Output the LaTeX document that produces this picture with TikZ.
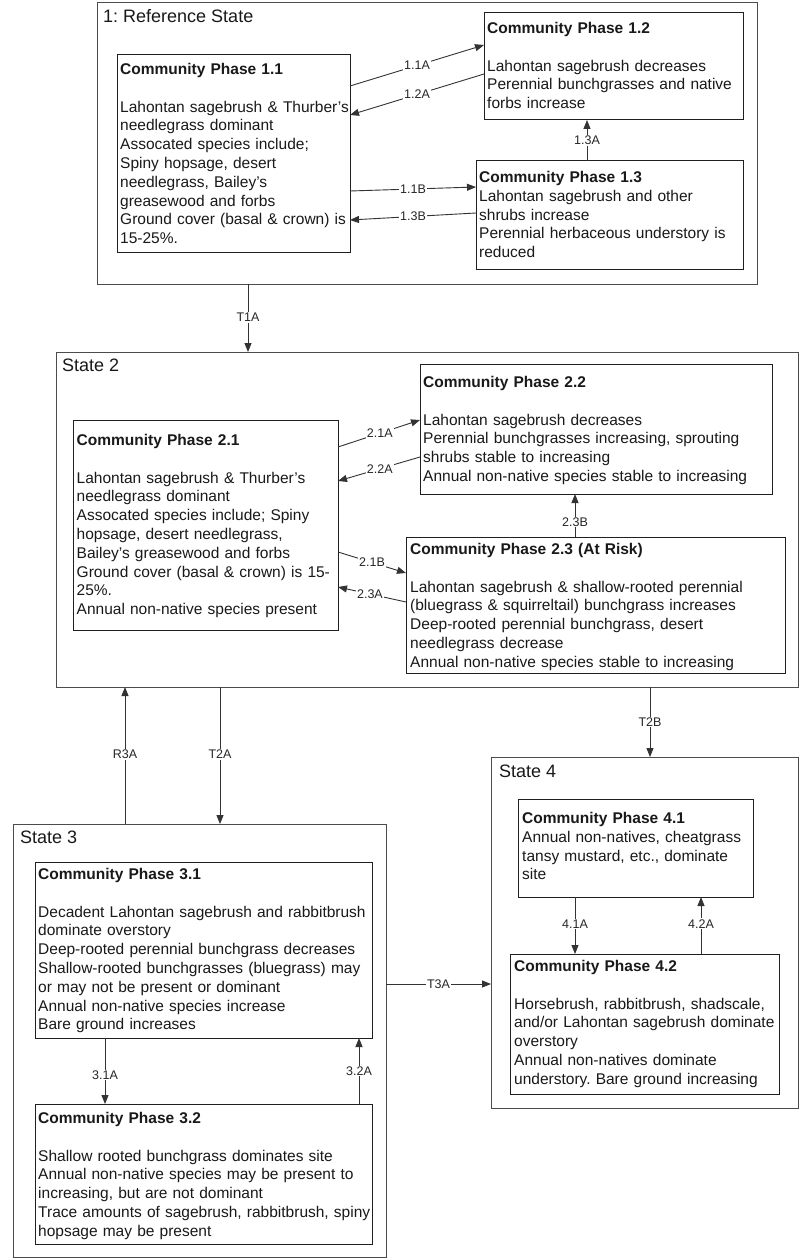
\documentclass[tikz,border=0pt]{standalone}
\usepackage{fontspec}
\setmainfont{Liberation Sans}
\usetikzlibrary{arrows.meta}
\frenchspacing
\tikzset{
  sbox/.style={draw=black!70, line width=1pt, inner sep=0pt, outer sep=0pt, anchor=north west},
  cbox/.style={draw=black!88, line width=1pt, inner sep=0pt, outer sep=0pt, anchor=north west},
  txt/.style={anchor=base west, inner sep=0pt, text width=400pt, align=left, font=\fontsize{15.5}{18.8}\selectfont\frenchspacing, text=black!90},
  stitle/.style={anchor=base west, inner sep=0pt, font=\fontsize{18}{21}\selectfont, text=black!90},
  arr/.style={draw=black!80, line width=0.9pt, -{Triangle[length=9pt,width=7pt]}},
  lbl/.style={fill=white, inner sep=1pt, font=\fontsize{12.5}{14}\selectfont, text=black!85}
}
\begin{document}
\begin{tikzpicture}[x=1pt,y=-1pt]
\path[use as bounding box, fill=white] (0,0) rectangle (800,1260);

% ---------- State 1 ----------
\node[sbox, minimum width=660pt, minimum height=281pt] (s1) at (97,3) {};
\node[stitle] (s1t) at (103,22.5) {1: Reference State};
\node[cbox, minimum width=233pt, minimum height=197pt] (p11) at (117,55) {};
\node[cbox, minimum width=259pt, minimum height=107pt] (p12) at (484,13) {};
\node[cbox, minimum width=267pt, minimum height=108pt] (p13) at (476,161) {};
\node[txt] (p11t) at (120,74.5) {\textbf{Community Phase 1.1}\\[18.8pt]
Lahontan sagebrush \& Thurber’s\\
needlegrass dominant\\
Assocated species include;\\
Spiny hopsage, desert\\
needlegrass, Bailey’s\\
greasewood and forbs\\
Ground cover (basal \& crown) is\\
15-25\%.};
\node[txt] (p12t) at (487,33.5) {\textbf{Community Phase 1.2}\\[18.8pt]
Lahontan sagebrush decreases\\
Perennial bunchgrasses and native\\
forbs increase};
\node[txt] (p13t) at (479,182.5) {\textbf{Community Phase 1.3}\\
Lahontan sagebrush and other\\
shrubs increase\\
Perennial herbaceous understory is\\
reduced};

\draw[arr] ([yshift=-31pt]p11.north east) -- node[lbl, pos=0.5] (l11a) {1.1A} ([yshift=-32pt]p12.north west);
\draw[arr] ([yshift=-61pt]p12.north west) -- node[lbl, pos=0.5] (l12a) {1.2A} ([yshift=-60pt]p11.north east);
\draw[arr] ([yshift=-136pt]p11.north east) -- node[lbl, pos=0.5] (l11b) {1.1B} ([yshift=-26pt]p13.north west);
\draw[arr] ([yshift=-52pt]p13.north west) -- node[lbl, pos=0.5] (l13b) {1.3B} ([yshift=-165pt]p11.north east);
\draw[arr] ([xshift=111pt]p13.north west) -- node[lbl, pos=0.5] (l13a) {1.3A} ([xshift=103pt]p12.south west);

% ---------- State 2 ----------
\node[sbox, minimum width=742pt, minimum height=335pt] (s2) at (56,352) {};
\node[stitle] (s2t) at (62,371) {State 2};
\node[cbox, minimum width=265pt, minimum height=210pt] (p21) at (73,420) {};
\node[cbox, minimum width=352pt, minimum height=130pt] (p22) at (420,364) {};
\node[cbox, minimum width=379pt, minimum height=136pt] (p23) at (406,537) {};
\node[txt] (p21t) at (76.5,445.5) {\textbf{Community Phase 2.1}\\[18.8pt]
Lahontan sagebrush \& Thurber’s\\
needlegrass dominant\\
Assocated species include; Spiny\\
hopsage, desert needlegrass,\\
Bailey’s greasewood and forbs\\
Ground cover (basal \& crown) is 15-\\
25\%.\\
Annual non-native species present};
\node[txt] (p22t) at (423,387.5) {\textbf{Community Phase 2.2}\\[18.8pt]
Lahontan sagebrush decreases\\
Perennial bunchgrasses increasing, sprouting\\
shrubs stable to increasing\\
Annual non-native species stable to increasing};
\node[txt] (p23t) at (410,554.5) {\textbf{Community Phase 2.3 (At Risk)}\\[18.8pt]
Lahontan sagebrush \& shallow-rooted perennial\\
(bluegrass \& squirreltail) bunchgrass increases\\
Deep-rooted perennial bunchgrass, desert\\
needlegrass decrease\\
Annual non-native species stable to increasing};

\draw[arr] ([yshift=-27pt]p21.north east) -- node[lbl, pos=0.51] (l21a) {2.1A} ([yshift=-56pt]p22.north west);
\draw[arr] ([yshift=-93pt]p22.north west) -- node[lbl, pos=0.49] (l22a) {2.2A} ([yshift=-61pt]p21.north east);
\draw[arr] ([yshift=-132pt]p21.north east) -- node[lbl, pos=0.5] (l21b) {2.1B} ([yshift=-36pt]p23.north west);
\draw[arr] ([yshift=-65pt]p23.north west) -- node[lbl, pos=0.53] (l23a) {2.3A} ([yshift=-167pt]p21.north east);
\draw[arr] ([xshift=169pt]p23.north west) -- node[lbl, pos=0.35] (l23b) {2.3B} ([xshift=155pt]p22.south west);

% ---------- State 3 ----------
\node[sbox, minimum width=373pt, minimum height=433pt] (s3) at (13,824) {};
\node[stitle] (s3t) at (20,843) {State 3};
\node[cbox, minimum width=337pt, minimum height=176pt] (p31) at (35,862) {};
\node[cbox, minimum width=337pt, minimum height=140pt] (p32) at (35,1104) {};
\node[txt] (p31t) at (38,879.5) {\textbf{Community Phase 3.1}\\[18.8pt]
Decadent Lahontan sagebrush and rabbitbrush\\
dominate overstory\\
Deep-rooted perennial bunchgrass decreases\\
Shallow-rooted bunchgrasses (bluegrass) may\\
or may not be present or dominant\\
Annual non-native species increase\\
Bare ground increases};
\node[txt] (p32t) at (38,1123.5) {\textbf{Community Phase 3.2}\\[18.8pt]
Shallow rooted bunchgrass dominates site\\
Annual non-native species may be present to\\
increasing, but are not dominant\\
Trace amounts of sagebrush, rabbitbrush, spiny\\
hopsage may be present};

\draw[arr] ([xshift=70pt]p31.south west) -- node[lbl, pos=0.56] (l31a) {3.1A} ([xshift=70pt]p32.north west);
\draw[arr] ([xshift=324pt]p32.north west) -- node[lbl, pos=0.5] (l32a) {3.2A} ([xshift=324pt]p31.south west);

% ---------- State 4 ----------
\node[sbox, minimum width=307pt, minimum height=351pt] (s4) at (491,757) {};
\node[stitle] (s4t) at (499,777) {State 4};
\node[cbox, minimum width=235pt, minimum height=98pt] (p41) at (518,799) {};
\node[cbox, minimum width=269pt, minimum height=140pt] (p42) at (510,954) {};
\node[txt] (p41t) at (522,823.5) {\textbf{Community Phase 4.1}\\
Annual non-natives, cheatgrass\\
tansy mustard, etc., dominate\\
site};
\node[txt] (p42t) at (514,971.5) {\textbf{Community Phase 4.2}\\[18.8pt]
Horsebrush, rabbitbrush, shadscale,\\
and/or Lahontan sagebrush dominate\\
overstory\\
Annual non-natives dominate\\
understory. Bare ground increasing};

\draw[arr] ([xshift=57pt]p41.south west) -- node[lbl, pos=0.47] (l41a) {4.1A} ([xshift=65pt]p42.north west);
\draw[arr] ([xshift=191pt]p42.north west) -- node[lbl, pos=0.53] (l42a) {4.2A} ([xshift=183pt]p41.south west);

% ---------- Transitions ----------
\draw[arr] ([xshift=151pt]s1.south west) -- node[lbl, pos=0.49] (lt1a) {T1A} ([xshift=192pt]s2.north west);
\draw[arr] ([xshift=112pt]s3.north west) -- node[lbl, pos=0.51] (lr3a) {R3A} ([xshift=69pt]s2.south west);
\draw[arr] ([xshift=164pt]s2.south west) -- node[lbl, pos=0.49] (lt2a) {T2A} ([xshift=207pt]s3.north west);
\draw[arr] ([xshift=594pt]s2.south west) -- node[lbl, pos=0.5] (lt2b) {T2B} ([xshift=159pt]s4.north west);
\draw[arr] ([yshift=-160pt]s3.north east) -- node[lbl, pos=0.5] (lt3a) {T3A} ([yshift=-227pt]s4.north west);
\end{tikzpicture}
\end{document}
